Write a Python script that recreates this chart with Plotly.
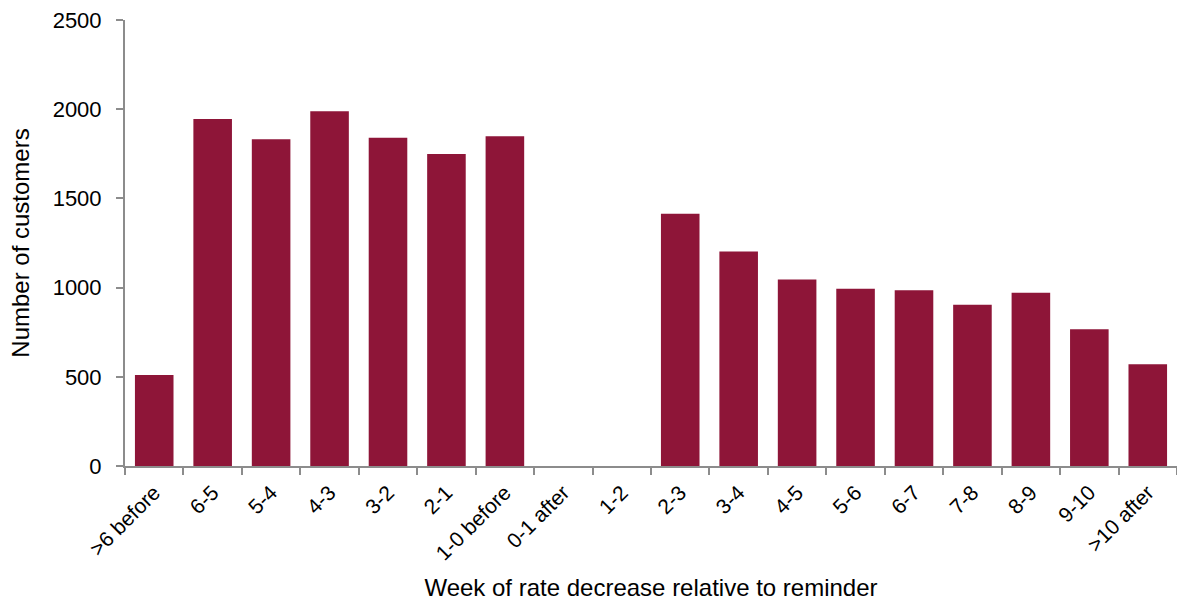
import plotly.graph_objects as go

# Weekly buckets of the rate decrease, relative to the reminder
weeks = [">6 before", "6-5", "5-4", "4-3", "3-2", "2-1", "1-0 before",
         "0-1 after", "1-2", "2-3", "3-4", "4-5", "5-6", "6-7", "7-8",
         "8-9", "9-10", ">10 after"]
customers = [510, 1945, 1831, 1988, 1840, 1749, 1848,
             0, 0, 1414, 1203, 1046, 994, 985, 904,
             971, 766, 570]

y_ticks = [0, 500, 1000, 1500, 2000, 2500]

bar_color = "#8E1538"
axis_color = "#8C8C8C"
font_family = "Liberation Sans, Arial, sans-serif"

fig = go.Figure(
    go.Bar(
        x=weeks,
        y=customers,
        marker=dict(color=bar_color, line=dict(width=0)),
    )
)

fig.update_layout(
    width=1177,
    height=601,
    margin=dict(l=125, r=0, t=20, b=135),
    paper_bgcolor="white",
    plot_bgcolor="white",
    bargap=0.34,
    showlegend=False,
    font=dict(family=font_family, size=22, color="#000000"),
)

fig.update_xaxes(
    type="category",
    showgrid=False,
    showline=True,
    linecolor=axis_color,
    linewidth=2,
    ticks="outside",
    tickson="boundaries",
    ticklen=7,
    tickwidth=2,
    tickcolor=axis_color,
    tickangle=-45,
    tickfont=dict(size=21),
    ticklabelstandoff=4,
    title=dict(text="Week of rate decrease relative to reminder",
               font=dict(size=24), standoff=19),
)

fig.update_yaxes(
    range=[0, 2500],
    tickvals=y_ticks,
    ticktext=[str(v) for v in y_ticks],
    showgrid=False,
    zeroline=False,
    showline=True,
    linecolor=axis_color,
    linewidth=2,
    ticks="outside",
    ticklen=7,
    tickwidth=2,
    tickcolor=axis_color,
    tickfont=dict(size=22),
    ticklabelstandoff=10,
    title=dict(text="Number of customers", font=dict(size=24), standoff=16),
)

fig.write_html("out.html")
